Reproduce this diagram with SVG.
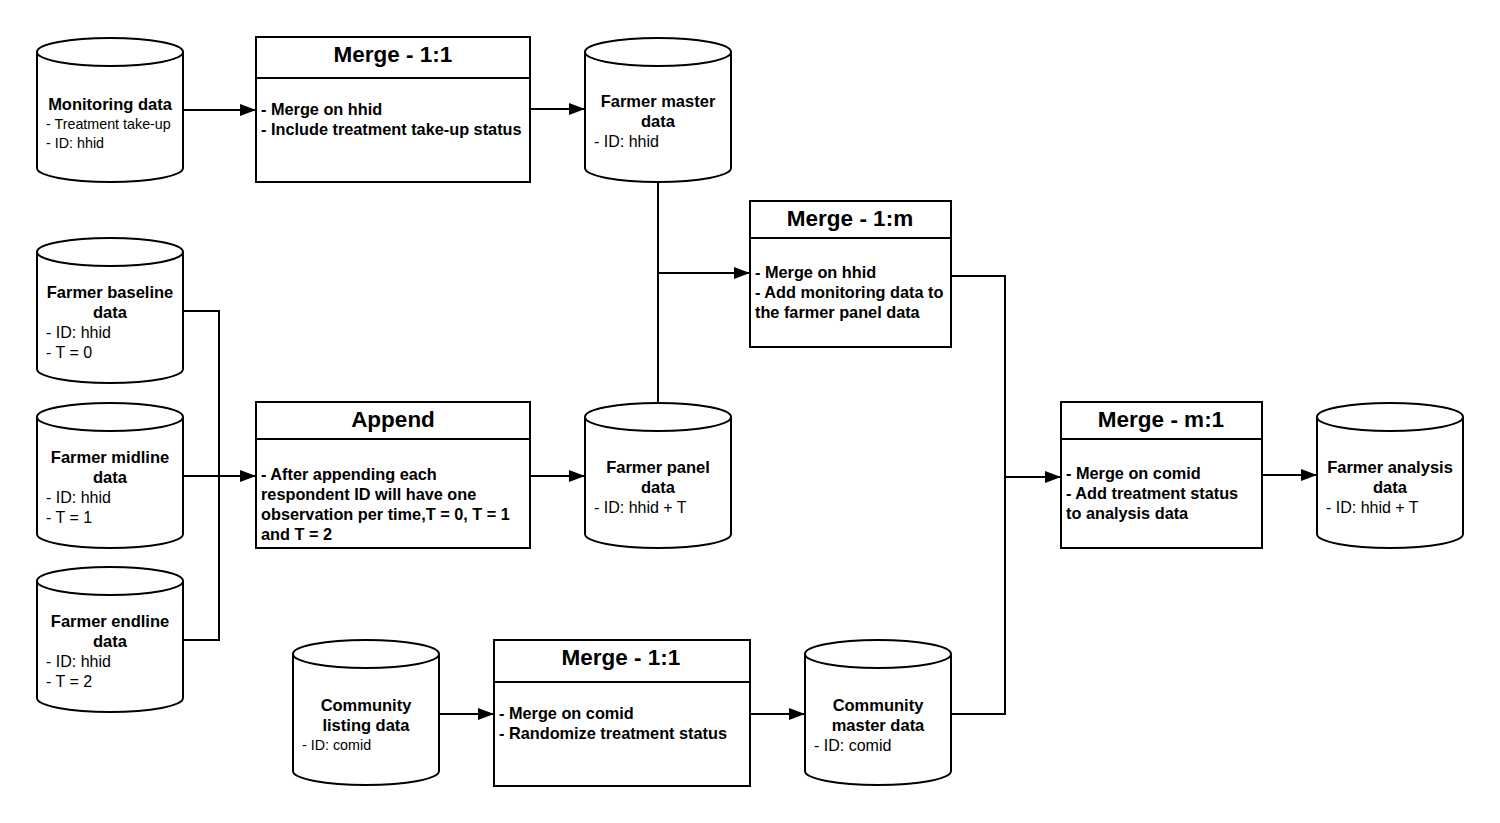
<svg xmlns="http://www.w3.org/2000/svg" width="1500" height="823" viewBox="0 0 1500 823">
<defs>
<marker id="arr" markerWidth="16" markerHeight="12" refX="16" refY="6" orient="auto" markerUnits="userSpaceOnUse">
<path d="M0,0 L16,6 L0,12 Z" fill="#000"/>
</marker>
<style>
.shape{fill:#fff;stroke:#000;stroke-width:2}
.line{fill:none;stroke:#000;stroke-width:2}
text{font-family:"Liberation Sans",Arial,sans-serif;fill:#000}
.ct{font-size:16.5px;font-weight:bold;text-anchor:middle}
.cs{font-size:16px}
.cs2{font-size:14.3px}
.bt{font-size:22.5px;font-weight:bold;text-anchor:middle}
.bb{font-size:16.3px;font-weight:bold}
</style>
</defs>
<rect width="1500" height="823" fill="#fff"/>

<g id="connectors">
<path class="line" d="M183,110 L256,110" marker-end="url(#arr)"/>
<path class="line" d="M530,109 L585,109" marker-end="url(#arr)"/>
<path class="line" d="M658,182 L658,403"/>
<path class="line" d="M658,273 L750,273" marker-end="url(#arr)"/>
<path class="line" d="M951,276 L1005,276 L1005,714 L951,714"/>
<path class="line" d="M1005,477 L1061,477" marker-end="url(#arr)"/>
<path class="line" d="M183,311 L219,311 L219,640 L183,640"/>
<path class="line" d="M183,476 L256,476" marker-end="url(#arr)"/>
<path class="line" d="M530,476 L585,476" marker-end="url(#arr)"/>
<path class="line" d="M439,714 L494,714" marker-end="url(#arr)"/>
<path class="line" d="M750,714 L805,714" marker-end="url(#arr)"/>
<path class="line" d="M1262,475 L1317,475" marker-end="url(#arr)"/>
</g>

<g id="monitoring">
<path class="shape" d="M37,52 A73,14 0 0 1 183,52 L183,168 A73,14 0 0 1 37,168 Z"/>
<path class="line" d="M37,52 A73,14 0 0 0 183,52"/>
<text class="ct" x="110" y="110">Monitoring data</text>
<text class="cs2" x="46" y="129">- Treatment take-up</text>
<text class="cs2" x="46" y="148">- ID: hhid</text>
</g>

<g id="merge1">
<rect class="shape" x="256" y="37" width="274" height="145"/>
<line class="line" x1="256" y1="78" x2="530" y2="78"/>
<text class="bt" x="393" y="62">Merge - 1:1</text>
<text class="bb" x="261" y="115">- Merge on hhid</text>
<text class="bb" x="261" y="135">- Include treatment take-up status</text>
</g>

<g id="farmer-master">
<path class="shape" d="M585,52 A73,14 0 0 1 731,52 L731,168 A73,14 0 0 1 585,168 Z"/>
<path class="line" d="M585,52 A73,14 0 0 0 731,52"/>
<text class="ct" x="658" y="107">Farmer master</text>
<text class="ct" x="658" y="127">data</text>
<text class="cs" x="594" y="147">- ID: hhid</text>
</g>

<g id="merge1m">
<rect class="shape" x="750" y="201" width="201" height="146"/>
<line class="line" x1="750" y1="238" x2="951" y2="238"/>
<text class="bt" x="850" y="226">Merge - 1:m</text>
<text class="bb" x="755" y="278">- Merge on hhid</text>
<text class="bb" x="755" y="298">- Add monitoring data to</text>
<text class="bb" x="755" y="318">the farmer panel data</text>
</g>

<g id="baseline">
<path class="shape" d="M37,252 A73,14 0 0 1 183,252 L183,369 A73,14 0 0 1 37,369 Z"/>
<path class="line" d="M37,252 A73,14 0 0 0 183,252"/>
<text class="ct" x="110" y="298">Farmer baseline</text>
<text class="ct" x="110" y="318">data</text>
<text class="cs" x="46" y="338">- ID: hhid</text>
<text class="cs" x="46" y="358">- T = 0</text>
</g>

<g id="midline">
<path class="shape" d="M37,417 A73,14 0 0 1 183,417 L183,534 A73,14 0 0 1 37,534 Z"/>
<path class="line" d="M37,417 A73,14 0 0 0 183,417"/>
<text class="ct" x="110" y="463">Farmer midline</text>
<text class="ct" x="110" y="483">data</text>
<text class="cs" x="46" y="503">- ID: hhid</text>
<text class="cs" x="46" y="523">- T = 1</text>
</g>

<g id="endline">
<path class="shape" d="M37,581 A73,14 0 0 1 183,581 L183,698 A73,14 0 0 1 37,698 Z"/>
<path class="line" d="M37,581 A73,14 0 0 0 183,581"/>
<text class="ct" x="110" y="627">Farmer endline</text>
<text class="ct" x="110" y="647">data</text>
<text class="cs" x="46" y="667">- ID: hhid</text>
<text class="cs" x="46" y="687">- T = 2</text>
</g>

<g id="append">
<rect class="shape" x="256" y="402" width="274" height="146"/>
<line class="line" x1="256" y1="439" x2="530" y2="439"/>
<text class="bt" x="393" y="427">Append</text>
<text class="bb" x="261" y="480">- After appending each</text>
<text class="bb" x="261" y="500">respondent ID will have one</text>
<text class="bb" x="261" y="520">observation per time,T = 0, T = 1</text>
<text class="bb" x="261" y="540">and T = 2</text>
</g>

<g id="farmer-panel">
<path class="shape" d="M585,417 A73,14 0 0 1 731,417 L731,534 A73,14 0 0 1 585,534 Z"/>
<path class="line" d="M585,417 A73,14 0 0 0 731,417"/>
<text class="ct" x="658" y="473">Farmer panel</text>
<text class="ct" x="658" y="493">data</text>
<text class="cs" x="594" y="513">- ID: hhid + T</text>
</g>

<g id="mergem1">
<rect class="shape" x="1061" y="402" width="201" height="146"/>
<line class="line" x1="1061" y1="439" x2="1262" y2="439"/>
<text class="bt" x="1161" y="427">Merge - m:1</text>
<text class="bb" x="1066" y="479">- Merge on comid</text>
<text class="bb" x="1066" y="499">- Add treatment status</text>
<text class="bb" x="1066" y="519">to analysis data</text>
</g>

<g id="farmer-analysis">
<path class="shape" d="M1317,417 A73,14 0 0 1 1463,417 L1463,534 A73,14 0 0 1 1317,534 Z"/>
<path class="line" d="M1317,417 A73,14 0 0 0 1463,417"/>
<text class="ct" x="1390" y="473">Farmer analysis</text>
<text class="ct" x="1390" y="493">data</text>
<text class="cs" x="1326" y="513">- ID: hhid + T</text>
</g>

<g id="community-listing">
<path class="shape" d="M293,654 A73,14 0 0 1 439,654 L439,771 A73,14 0 0 1 293,771 Z"/>
<path class="line" d="M293,654 A73,14 0 0 0 439,654"/>
<text class="ct" x="366" y="711">Community</text>
<text class="ct" x="366" y="731">listing data</text>
<text class="cs2" x="302" y="750">- ID: comid</text>
</g>

<g id="merge1b">
<rect class="shape" x="494" y="640" width="256" height="146"/>
<line class="line" x1="494" y1="682" x2="750" y2="682"/>
<text class="bt" x="621" y="665">Merge - 1:1</text>
<text class="bb" x="499" y="719">- Merge on comid</text>
<text class="bb" x="499" y="739">- Randomize treatment status</text>
</g>

<g id="community-master">
<path class="shape" d="M805,654 A73,14 0 0 1 951,654 L951,771 A73,14 0 0 1 805,771 Z"/>
<path class="line" d="M805,654 A73,14 0 0 0 951,654"/>
<text class="ct" x="878" y="711">Community</text>
<text class="ct" x="878" y="731">master data</text>
<text class="cs" x="814" y="751">- ID: comid</text>
</g>
</svg>
